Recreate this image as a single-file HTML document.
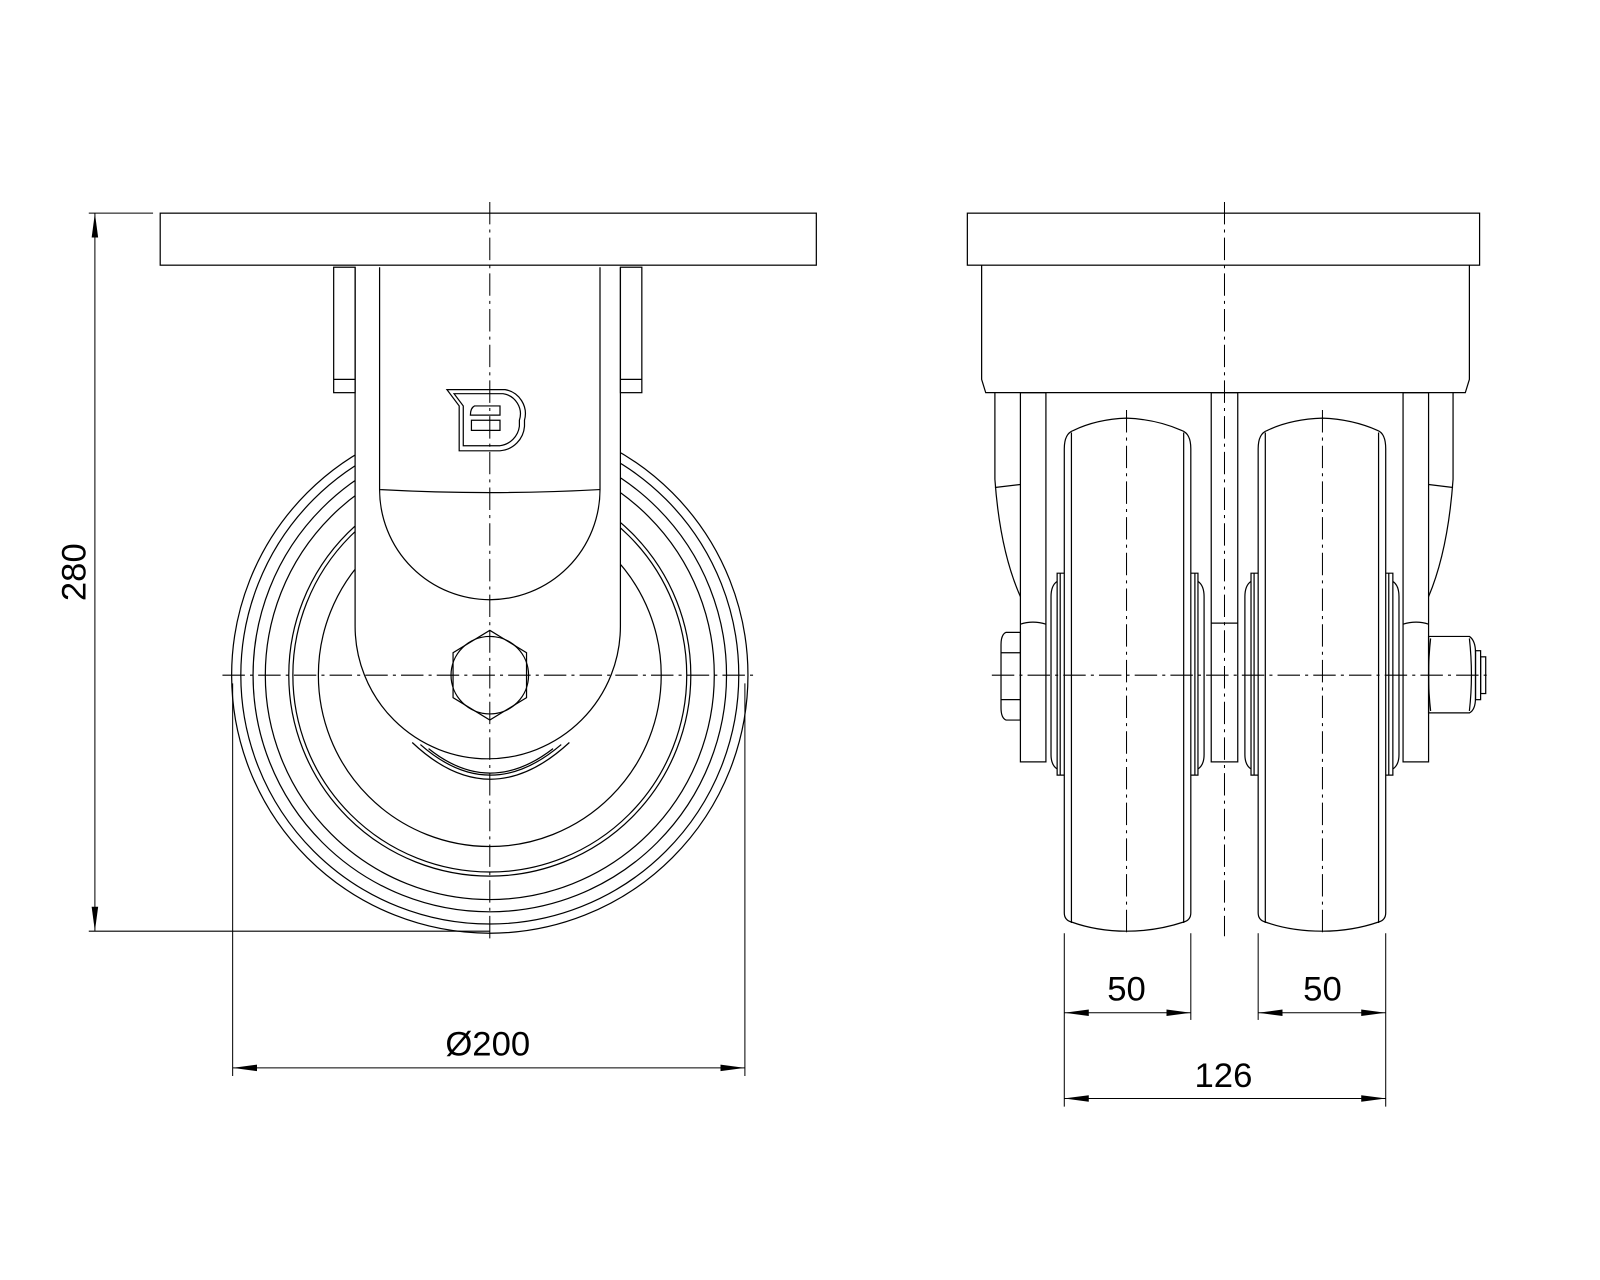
<!DOCTYPE html>
<html><head><meta charset="utf-8"><style>
html,body{margin:0;padding:0;background:#fff;}
svg{display:block;}
text{font-family:"Liberation Sans",sans-serif;font-size:34px;fill:#000;}
</style></head><body>
<svg width="1600" height="1280" viewBox="0 0 1568 1255" preserveAspectRatio="none" xmlns="http://www.w3.org/2000/svg">
<defs>
<marker id="a" viewBox="0 0 24 8" refX="24" refY="4" markerWidth="24" markerHeight="8" markerUnits="userSpaceOnUse" orient="auto-start-reverse"><path d="M0,0.8 L24,4 L0,7.2 z" fill="#000"/></marker>
</defs>
<g fill="none" stroke="#000" stroke-width="1.2">
<circle cx="480" cy="662" r="253"/>
<circle cx="480" cy="662" r="244"/>
<circle cx="480" cy="662" r="232"/>
<circle cx="480" cy="662" r="220"/>
<circle cx="480" cy="662" r="197"/>
<circle cx="480" cy="662" r="193"/>
<circle cx="480" cy="662" r="168"/>
<path d="M348,262 L348,614 A130,130 0 0 0 608,614 L608,262" fill="#fff"/>
<path d="M404,728 Q480,800 558,728"/>
<path d="M412,730 Q480,790 550,730"/>
<path d="M420,734 Q480,782 542,734"/>
<path d="M372,262 L372,480 A108,108 0 0 0 588,480 L588,262"/>
<path d="M372,480 Q480,486 588,480"/>
<rect x="327" y="262" width="21" height="123"/>
<line x1="327" y1="372" x2="348" y2="372"/>
<rect x="608" y="262" width="21" height="123"/>
<line x1="608" y1="372" x2="629" y2="372"/>
<rect x="157" y="209" width="643" height="51" fill="#fff"/>
<path d="M438,382 L495,382 A24,24 0 0 1 514,412 L514,418 A26,26 0 0 1 490,442 L450,442 L450,398 Z"/>
<path d="M445,386 L493,386 A20,20 0 0 1 509,412 L509,418 A22,22 0 0 1 490,437 L454,437 L454,398 Z"/>
<path d="M462,412 L490,412 L490,422 L462,422 Z"/>
<path d="M465,398 L490,398 L490,407 L461,407 Q461,400 465,398 Z"/>
<polygon points="480,618 516,640 516,684 480,706 444,684 444,640"/>
<circle cx="480" cy="662" r="38"/>
<rect x="948" y="209" width="502" height="51"/>
<path d="M962,260 L962,372 L966,385 L1436,385 L1440,372 L1440,260"/>
<path d="M975,385 L975,470 Q980,540 1000,585"/>
<path d="M1424,385 L1424,470 Q1419,540 1400,585"/>
<line x1="975" y1="478" x2="1000" y2="475"/>
<line x1="1424" y1="478" x2="1400" y2="475"/>
<rect x="1000" y="385" width="25" height="362"/>
<rect x="1187" y="385" width="26" height="362"/>
<rect x="1375" y="385" width="25" height="362"/>
<path d="M1000,612 Q1012,608 1025,612"/><path d="M1187,611 L1213,611"/><path d="M1375,612 Q1388,608 1400,612"/>
<path d="M1043,440 Q1043,425 1052,422 Q1075,411 1104,410 Q1133,411 1158,422 Q1167,425 1167,440 L1167,895 Q1167,902 1160,904 Q1133,913 1104,913 Q1075,913 1050,904 Q1043,902 1043,895 Z"/>
<line x1="1050" y1="424" x2="1050" y2="905"/><line x1="1160" y1="424" x2="1160" y2="905"/>
<path d="M1233,440 Q1233,425 1242,422 Q1265,411 1296,410 Q1325,411 1350,422 Q1358,425 1358,440 L1358,895 Q1358,902 1351,904 Q1325,913 1296,913 Q1265,913 1240,904 Q1233,902 1233,895 Z"/>
<line x1="1240" y1="424" x2="1240" y2="905"/><line x1="1351" y1="424" x2="1351" y2="905"/>
<path d="M1043,562 L1036,562 L1036,760 L1043,760"/><path d="M1036,570 Q1030,574 1030,585 L1030,740 Q1030,750 1036,754"/><line x1="1039" y1="562" x2="1039" y2="760"/>
<path d="M1167,562 L1174,562 L1174,760 L1167,760"/><path d="M1174,570 Q1180,574 1180,585 L1180,740 Q1180,750 1174,754"/><line x1="1171" y1="562" x2="1171" y2="760"/>
<path d="M1233,562 L1226,562 L1226,760 L1233,760"/><path d="M1226,570 Q1220,574 1220,585 L1220,740 Q1220,750 1226,754"/><line x1="1229" y1="562" x2="1229" y2="760"/>
<path d="M1358,562 L1365,562 L1365,760 L1358,760"/><path d="M1365,570 Q1371,574 1371,585 L1371,740 Q1371,750 1365,754"/><line x1="1361" y1="562" x2="1361" y2="760"/>
<path d="M1000,620 L986,620 Q981,622 981,632 L981,694 Q981,704 986,706 L1000,706 Z"/>
<line x1="981" y1="640" x2="1000" y2="640"/><line x1="981" y1="686" x2="1000" y2="686"/>
<path d="M1400,624 L1440,624 Q1446,628 1446,640 L1446,684 Q1446,696 1440,699 L1400,699 Z"/>
<path d="M1402,626 Q1398,662 1402,697"/><path d="M1440,626 Q1444,662 1440,697"/>
<rect x="1446" y="638" width="5" height="48"/><rect x="1451" y="644" width="5" height="36"/>
</g>
<g fill="none" stroke="#000" stroke-width="1" stroke-dasharray="22,5,3,5">
<line x1="480" y1="198" x2="480" y2="922"/>
<line x1="218" y1="662" x2="740" y2="662"/>
<line x1="1200" y1="198" x2="1200" y2="918"/>
<line x1="972" y1="662" x2="1462" y2="662"/>
<line x1="1104" y1="402" x2="1104" y2="918"/>
<line x1="1296" y1="402" x2="1296" y2="918"/>
</g>
<g fill="none" stroke="#000" stroke-width="1">
<line x1="87" y1="209" x2="150" y2="209"/>
<line x1="87" y1="913" x2="480" y2="913"/>
<line x1="93" y1="209" x2="93" y2="913" marker-start="url(#a)" marker-end="url(#a)"/>
<line x1="228" y1="670" x2="228" y2="1055"/>
<line x1="730" y1="670" x2="730" y2="1055"/>
<line x1="228" y1="1047" x2="730" y2="1047" marker-start="url(#a)" marker-end="url(#a)"/>
<line x1="1043" y1="915" x2="1043" y2="1085"/>
<line x1="1167" y1="915" x2="1167" y2="1000"/>
<line x1="1233" y1="915" x2="1233" y2="1000"/>
<line x1="1358" y1="915" x2="1358" y2="1085"/>
<line x1="1043" y1="993" x2="1167" y2="993" marker-start="url(#a)" marker-end="url(#a)"/>
<line x1="1233" y1="993" x2="1358" y2="993" marker-start="url(#a)" marker-end="url(#a)"/>
<line x1="1043" y1="1077" x2="1358" y2="1077" marker-start="url(#a)" marker-end="url(#a)"/>
</g>
<text x="84" y="561" text-anchor="middle" transform="rotate(-90 84 561)">280</text>
<text x="478" y="1035" text-anchor="middle">Ø200</text>
<text x="1104" y="981" text-anchor="middle">50</text>
<text x="1296" y="981" text-anchor="middle">50</text>
<text x="1199" y="1066" text-anchor="middle">126</text>
</svg>
</body></html>
